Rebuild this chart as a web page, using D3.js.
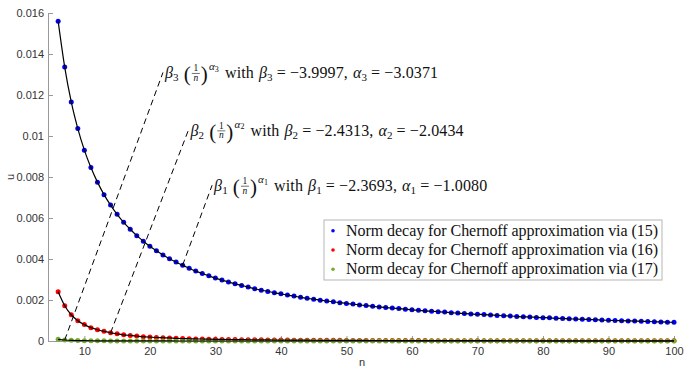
<!doctype html>
<html lang="en">
  <head>
    <meta charset="utf-8">
    <title>Norm decay</title>
    <style>
      * { margin: 0; border: 0; padding: 0; }
      body { background: #fff; }
      .tick text { font-family: "Liberation Sans", Arial, sans-serif; font-size: 11px; fill: #333; }
      .tick line, .domain { stroke: #9a9a9a; }
      .serif { font-family: "Liberation Serif", "Times New Roman", serif; fill: #111; white-space: pre; }
    </style>
  </head>
  <body>
    <div id="plot"></div>

<script src="https://cdn.jsdelivr.net/npm/d3@7"></script>
<script>

  // n = 6 .. 100
  var nValues = d3.range(6, 101);

  var blue = [
    0.01560, 0.01336, 0.01166, 0.01036, 0.00931, 0.00846, 0.00775, 0.00714, 0.00663, 0.00618,
    0.00579, 0.00545, 0.00514, 0.00487, 0.00462, 0.00440, 0.00420, 0.00401, 0.00385, 0.00369,
    0.00355, 0.00341, 0.00329, 0.00318, 0.00307, 0.00297, 0.00288, 0.00279, 0.00271, 0.00263,
    0.00255, 0.00248, 0.00242, 0.00235, 0.00230, 0.00224, 0.00219, 0.00213, 0.00208, 0.00204,
    0.00199, 0.00195, 0.00191, 0.00187, 0.00183, 0.00180, 0.00176, 0.00173, 0.00169, 0.00166,
    0.00163, 0.00161, 0.00158, 0.00155, 0.00152, 0.00150, 0.00147, 0.00145, 0.00143, 0.00141,
    0.00138, 0.00136, 0.00134, 0.00132, 0.00130, 0.00129, 0.00127, 0.00125, 0.00123, 0.00122,
    0.00120, 0.00118, 0.00117, 0.00115, 0.00114, 0.00113, 0.00111, 0.00110, 0.00108, 0.00107,
    0.00106, 0.00105, 0.00104, 0.00102, 0.00101, 0.00100, 0.00099, 0.00098, 0.00097, 0.00096,
    0.00095, 0.00094, 0.00093, 0.00092, 0.00091
  ];

  var red = [
    0.00240, 0.00172, 0.00128, 0.00099, 0.00080, 0.00065, 0.00055, 0.00047, 0.00040, 0.00035,
    0.00030, 0.00027, 0.00024, 0.00021, 0.00019, 0.00017, 0.00016, 0.00015, 0.00013, 0.00012,
    0.00011, 0.00010, 9.7e-5, 9.0e-5, 8.4e-5, 7.9e-5, 7.4e-5, 6.9e-5, 6.5e-5, 6.2e-5,
    5.8e-5, 5.5e-5, 5.2e-5, 4.9e-5, 4.7e-5, 4.5e-5, 4.2e-5, 4.0e-5, 3.9e-5, 3.7e-5,
    3.5e-5, 3.4e-5, 3.2e-5, 3.1e-5, 3.0e-5, 2.9e-5, 2.7e-5, 2.6e-5, 2.5e-5, 2.4e-5,
    2.4e-5, 2.3e-5, 2.2e-5, 2.1e-5, 2.0e-5, 2.0e-5, 1.9e-5, 1.8e-5, 1.8e-5, 1.7e-5,
    1.7e-5, 1.6e-5, 1.6e-5, 1.5e-5, 1.5e-5, 1.4e-5, 1.4e-5, 1.4e-5, 1.3e-5, 1.3e-5,
    1.2e-5, 1.2e-5, 1.2e-5, 1.1e-5, 1.1e-5, 1.1e-5, 1.1e-5, 1.0e-5, 1.0e-5, 1.0e-5,
    9.6e-6, 9.4e-6, 9.1e-6, 8.9e-6, 8.7e-6, 8.5e-6, 8.3e-6, 8.2e-6, 8.0e-6, 7.8e-6,
    7.6e-6, 7.5e-6, 7.3e-6, 7.2e-6, 7.0e-6
  ];

  var green = [
    8.0e-5, 5.0e-5, 3.3e-5, 2.3e-5, 1.7e-5, 1.3e-5, 9.7e-6, 7.6e-6, 6.0e-6, 4.9e-6,
    4.0e-6, 3.4e-6, 2.8e-6, 2.4e-6, 2.0e-6, 1.8e-6, 1.5e-6, 1.3e-6, 1.2e-6, 1.0e-6,
    9e-7, 8e-7, 7e-7, 7e-7, 6e-7, 5.5e-7, 5e-7, 4.5e-7, 4e-7, 3.7e-7,
    3.4e-7, 3.1e-7, 2.9e-7, 2.7e-7, 2.5e-7, 2.3e-7, 2.2e-7, 2.0e-7, 1.9e-7, 1.8e-7,
    1.7e-7, 1.6e-7, 1.5e-7, 1.4e-7, 1.3e-7, 1.2e-7, 1.2e-7, 1.1e-7, 1.0e-7, 1.0e-7,
    9e-8, 9e-8, 8e-8, 8e-8, 7e-8, 7e-8, 7e-8, 6e-8, 6e-8, 6e-8,
    6e-8, 5e-8, 5e-8, 5e-8, 5e-8, 4e-8, 4e-8, 4e-8, 4e-8, 4e-8,
    4e-8, 3e-8, 3e-8, 3e-8, 3e-8, 3e-8, 3e-8, 3e-8, 3e-8, 3e-8,
    3e-8, 3e-8, 3e-8, 3e-8, 3e-8, 2e-8, 2e-8, 2e-8, 2e-8, 2e-8,
    2e-8, 2e-8, 2e-8, 2e-8, 2e-8
  ];

  var xTicks = [10, 20, 30, 40, 50, 60, 70, 80, 90, 100];
  var yTicks = [0, 0.002, 0.004, 0.006, 0.008, 0.01, 0.012, 0.014, 0.016];
  var yTickLabels = ["0", "0.002", "0.004", "0.006", "0.008", "0.01", "0.012", "0.014", "0.016"];

  var legendLabels = [
    "Norm decay for Chernoff approximation via (15)",
    "Norm decay for Chernoff approximation via (16)",
    "Norm decay for Chernoff approximation via (17)"
  ];

  // fit annotations: index, beta, alpha, leader start (on data), leader end (at label)
  var fitIndex = ["3", "2", "1"];
  var fitBeta  = ["−3.9997", "−2.4313", "−2.3693"];
  var fitAlpha = ["−3.0371", "−2.0434", "−1.0080"];
  var leaderFrom = [[7, 0.00005], [14, 0.0004], [25, 0.0037]];
  var leaderTo   = [[22, 0.0131], [25.9, 0.0103], [29.5, 0.0076]];

  var width  = 684;
  var height = 368;
  var colors = ["#0000ff", "#ff0000", "#77ac30"];
  var series = [blue, red, green];

  var xscale = d3.scaleLinear().domain([4.45, 100]).range([48, 674]);
  var yscale = d3.scaleLinear().domain([0, 0.016]).range([341, 13]);

  var svg = d3.select("#plot").append("svg").attr("width", width).attr("height", height);

  svg.append("g").attr("transform", "translate(0,341)")
    .call(d3.axisBottom(xscale).tickValues(xTicks).tickSize(-5).tickSizeOuter(0).tickPadding(6));
  svg.append("g").attr("transform", "translate(48,0)")
    .call(d3.axisLeft(yscale).tickValues(yTicks).tickSize(-5).tickSizeOuter(0).tickPadding(4)
      .tickFormat((d, i) => yTickLabels[i]));

  svg.append("text").attr("transform", "translate(14,177) rotate(-90)")
    .attr("text-anchor", "middle").attr("font-family", "Liberation Sans, Arial, sans-serif")
    .attr("font-size", 11).attr("fill", "#333").text("u");
  svg.append("text").attr("x", 362).attr("y", 366)
    .attr("text-anchor", "middle").attr("font-family", "Liberation Sans, Arial, sans-serif")
    .attr("font-size", 11).attr("fill", "#333").text("n");

  // markers
  series.forEach(function(s, k) {
    svg.append("g").selectAll("circle").data(s).enter().append("circle")
      .attr("cx", (d, i) => xscale(nValues[i]))
      .attr("cy", d => yscale(d))
      .attr("r", 2.5)
      .attr("fill", colors[k]);
  });

  // black fitted curves
  var line = d3.line().x((d, i) => xscale(nValues[i])).y(d => yscale(d)).curve(d3.curveMonotoneX);
  series.forEach(function(s) {
    svg.append("path").attr("d", line(s)).attr("fill", "none")
      .attr("stroke", "#000").attr("stroke-width", 1.2);
  });

  // leader lines and fit labels
  var fs = 16;
  var ls = 0.12;
  function mathLabel(x, y, k, b, a) {
    var g = svg.append("g").attr("class", "serif");
    var cx = x;
    function put(str, size, dy, italic, gap) {
      var t = g.append("text").attr("x", cx).attr("y", y + (dy || 0))
        .attr("font-size", size).attr("letter-spacing", ls).text(str);
      if (italic) t.attr("font-style", "italic");
      cx += t.node().getComputedTextLength() + (gap || 0);
    }
    put("β", fs, 0, true);
    put(k, 11, 3, false, 5);
    put("(", 21, 3, false, 1);
    var fw = 8;
    g.append("text").attr("x", cx + fw / 2).attr("y", y - 7).attr("text-anchor", "middle")
      .attr("font-size", 9.5).text("1");
    g.append("line").attr("x1", cx).attr("x2", cx + fw).attr("y1", y - 5).attr("y2", y - 5)
      .attr("stroke", "#111").attr("stroke-width", 0.6);
    g.append("text").attr("x", cx + fw / 2).attr("y", y + 2.5).attr("text-anchor", "middle")
      .attr("font-size", 9.5).attr("font-style", "italic").text("n");
    cx += fw + 1;
    put(")", 21, 3, false, 1);
    put("α", 11, -8, true);
    put(k, 8, -6.5, false, 6);
    put("with", fs, 0, false, 5);
    put("β", fs, 0, true);
    put(k, 11, 3, false, 4);
    put("= " + b + ",", fs, 0, false, 5);
    put("α", fs, 0, true);
    put(k, 11, 3, false, 4);
    put("= " + a, fs, 0, false);
  }

  leaderFrom.forEach(function(p, i) {
    var q = leaderTo[i];
    svg.append("line")
      .attr("x1", xscale(p[0])).attr("y1", yscale(p[1]))
      .attr("x2", xscale(q[0])).attr("y2", yscale(q[1]))
      .attr("stroke", "#000").attr("stroke-width", 1).attr("stroke-dasharray", "6,4");
    mathLabel(xscale(q[0]) + 2, yscale(q[1]) + 6, fitIndex[i], fitBeta[i], fitAlpha[i]);
  });

  // legend
  var lg = svg.append("g");
  lg.append("rect").attr("x", 324).attr("y", 220).attr("width", 338).attr("height", 60)
    .attr("fill", "#fff").attr("stroke", "#b5b5b5").attr("stroke-width", 1);
  legendLabels.forEach(function(lab, i) {
    var cy = 230.7 + i * 19.3;
    lg.append("circle").attr("cx", 333).attr("cy", cy).attr("r", 1.8).attr("fill", colors[i]);
    lg.append("text").attr("class", "serif").attr("x", 346).attr("y", cy + 5)
      .attr("font-size", 16).attr("textLength", 312).attr("lengthAdjust", "spacing").text(lab);
  });

</script>
  </body>
</html>
